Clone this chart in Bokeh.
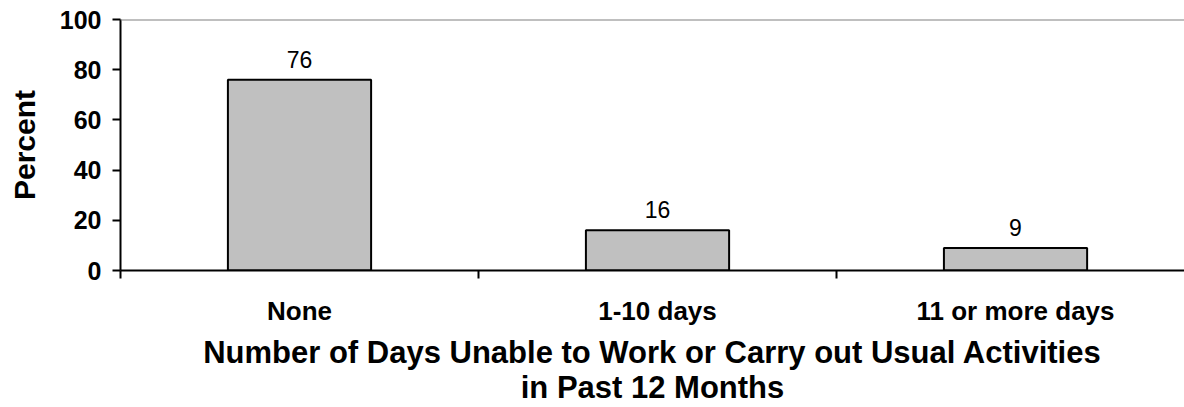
from bokeh.plotting import figure
from bokeh.models import FixedTicker, Span, ColumnDataSource, Range1d
from bokeh.core.properties import value
from bokeh.embed import file_html
from bokeh.resources import INLINE

categories = ["None", "1-10 days", "11 or more days"]
percents = [76, 16, 9]
positions = [0.5, 1.5, 2.5]
boundaries = [0, 1, 2]
y_ticks = [0, 20, 40, 60, 80, 100]

FONT = "Liberation Sans"

src = ColumnDataSource(dict(x=positions, top=percents, label=[str(v) for v in percents]))

p = figure(width=1184, height=407, output_backend="svg", toolbar_location=None,
           x_range=Range1d(0, 2.972), y_range=Range1d(0, 100),
           min_border_left=120, min_border_right=0, min_border_top=19, min_border_bottom=137)
p.outline_line_color = None
p.grid.grid_line_color = None
p.background_fill_color = "white"
p.border_fill_color = "white"

p.vbar(x="x", top="top", width=0.4, bottom=0, source=src,
       fill_color="#C0C0C0", line_color="black", line_width=2)
p.text(x="x", y="top", text="label", source=src, text_align="center",
       text_baseline="bottom", y_offset=-12, text_font=value(FONT),
       text_font_size="23px", text_color="black")

p.add_layout(Span(location=100, dimension="width", line_color="#808080", line_width=2))

xa = p.xaxis[0]
xa.ticker = FixedTicker(ticks=positions, minor_ticks=boundaries)
xa.major_label_overrides = {pos: c for pos, c in zip(positions, categories)}
xa.major_tick_out = 0
xa.major_tick_in = 0
xa.minor_tick_out = 8
xa.minor_tick_in = 0
xa.minor_tick_line_color = "black"
xa.minor_tick_line_width = 2
xa.axis_line_width = 2
xa.axis_line_color = "black"
xa.major_label_standoff = 17
xa.major_label_text_font = FONT
xa.major_label_text_font_style = "bold"
xa.major_label_text_font_size = "26px"
xa.major_label_text_color = "black"
xa.axis_label = "Number of Days Unable to Work or Carry out Usual Activities\nin Past 12 Months"
xa.axis_label_text_font = FONT
xa.axis_label_text_font_style = "bold"
xa.axis_label_text_font_size = "31px"
xa.axis_label_text_line_height = 1.0
xa.axis_label_text_color = "black"
xa.axis_label_standoff = 6

ya = p.yaxis[0]
ya.ticker = FixedTicker(ticks=y_ticks)
ya.major_tick_out = 8
ya.major_tick_in = 0
ya.minor_tick_out = 0
ya.minor_tick_in = 0
ya.major_tick_line_width = 2
ya.axis_line_width = 2
ya.axis_line_color = "black"
ya.major_label_standoff = 11
ya.major_label_text_font = FONT
ya.major_label_text_font_style = "bold"
ya.major_label_text_font_size = "25px"
ya.major_label_text_color = "black"
ya.axis_label = "Percent"
ya.axis_label_text_font = FONT
ya.axis_label_text_font_style = "bold"
ya.axis_label_text_font_size = "30px"
ya.axis_label_text_color = "black"
ya.axis_label_standoff = 16

open("out.html", "w").write(file_html(p, INLINE))
